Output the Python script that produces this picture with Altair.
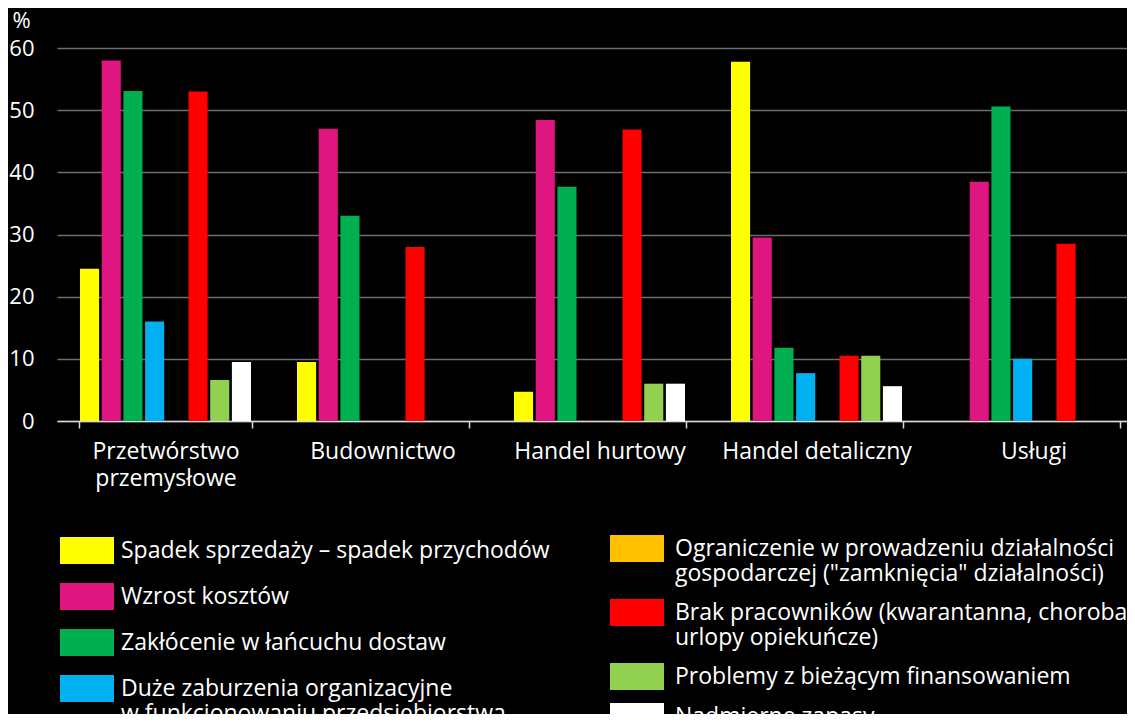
import altair as alt
import pandas as pd

categories = ["Przetwórstwo\nprzemysłowe", "Budownictwo", "Handel hurtowy", "Handel detaliczny", "Usługi"]

series_left = [
    "Spadek sprzedaży – spadek przychodów",
    "Wzrost kosztów",
    "Zakłócenie w łańcuchu dostaw",
    "Duże zaburzenia organizacyjne\nw funkcjonowaniu przedsiębiorstwa",
]
series_right = [
    "Ograniczenie w prowadzeniu działalności\ngospodarczej (\"zamknięcia\" działalności)",
    "Brak pracowników (kwarantanna, choroba,\nurlopy opiekuńcze)",
    "Problemy z bieżącym finansowaniem",
    "Nadmierne zapasy",
]
colors_left = ["#FFFF00", "#DF1580", "#00B050", "#00B0F0"]
colors_right = ["#FFC000", "#FF0000", "#92D050", "#FFFFFF"]

spadek = [24.5, 9.5, 4.7, 57.8, 0]
wzrost = [58.0, 47.0, 48.4, 29.5, 38.5]
zaklocenie = [53.1, 33.0, 37.7, 11.8, 50.6]
zaburzenia = [16.0, 0, 0, 7.7, 10.0]
ograniczenie = [0, 0, 0, 0, 0]
brak = [53.0, 28.0, 46.9, 10.5, 28.5]
finansowanie = [6.6, 0, 6.0, 10.5, 0]
zapasy = [9.5, 0, 6.0, 5.6, 0]

values_left = [spadek, wzrost, zaklocenie, zaburzenia]
values_right = [ograniczenie, brak, finansowanie, zapasy]
all_series = series_left + series_right


def long_df(names, vals):
    rows = []
    for name, vs in zip(names, vals):
        for cat, v in zip(categories, vs):
            rows.append({"category": cat, "series": name, "value": v})
    return pd.DataFrame(rows)


df_left = long_df(series_left, values_left)
df_right = long_df(series_right, values_right)

FONT = "Open Sans"
FS = 23

x_enc = alt.X(
    "category:N",
    sort=categories,
    scale=alt.Scale(paddingInner=0.2, paddingOuter=0.1, range=[0, 1085]),
    axis=alt.Axis(
        title=None,
        labelAngle=0,
        labelExpr="split(datum.label, '\\n')",
        labelFontSize=FS,
        labelColor="white",
        labelPadding=12,
        labelLineHeight=27,
        labelBaseline="top",
        labelLimit=400,
        tickBand="extent",
        tickSize=7,
        tickColor="#d9d9d9",
        tickWidth=1.5,
        domainColor="#d9d9d9",
        domainWidth=1.5,
        grid=False,
    ),
)
xoff_enc = alt.XOffset(
    "series:N",
    sort=all_series,
    scale=alt.Scale(domain=all_series, paddingInner=0.12, paddingOuter=0.06),
)
y_enc = alt.Y(
    "value:Q",
    scale=alt.Scale(domain=[0, 60], nice=False),
    axis=alt.Axis(
        values=[0, 10, 20, 30, 40, 50, 60],
        title="%",
        titleAngle=0,
        titleX=-36,
        titleY=-28,
        titleAlign="center",
        titleBaseline="middle",
        titleFontSize=22,
        titleFontWeight="normal",
        titleColor="white",
        labelFontSize=22,
        labelColor="white",
        labelPadding=23,
        ticks=False,
        domain=False,
        grid=True,
        gridColor="#6e6e6e",
        gridWidth=1.5,
    ),
)


def legend(x, y, row_pad, label_offset):
    return alt.Legend(
        orient="none",
        legendX=x,
        legendY=y,
        direction="vertical",
        title=None,
        symbolType="M-1,-1H3V1H-1Z",
        symbolSize=729,
        symbolStrokeWidth=0,
        symbolOpacity=1,
        labelFontSize=FS,
        labelColor="white",
        labelOffset=label_offset,
        labelLimit=900,
        labelExpr="split(datum.label, '\\n')",
        rowPadding=row_pad,
    )


left = alt.Chart(df_left).mark_bar().encode(
    x=x_enc,
    xOffset=xoff_enc,
    y=y_enc,
    color=alt.Color(
        "series:N",
        scale=alt.Scale(domain=series_left, range=colors_left),
        legend=legend(3, 489, 19, 34),
    ),
)
right = alt.Chart(df_right).mark_bar().encode(
    x=x_enc,
    xOffset=xoff_enc,
    y=y_enc,
    color=alt.Color(
        "series:N",
        scale=alt.Scale(domain=series_right, range=colors_right),
        legend=legend(553, 487, 13, 38),
    ),
)

chart = (
    alt.layer(left, right)
    .resolve_scale(color="independent")
    .properties(
        width=1070,
        height=373,
        padding={"left": 49, "top": 40, "right": 0, "bottom": 293},
        autosize=alt.AutoSizeParams(type="none"),
        background="black",
    )
    .configure(font=FONT)
    .configure_view(stroke=None)
)

chart.save("out.html", embed_options={"renderer": "svg", "actions": False})
